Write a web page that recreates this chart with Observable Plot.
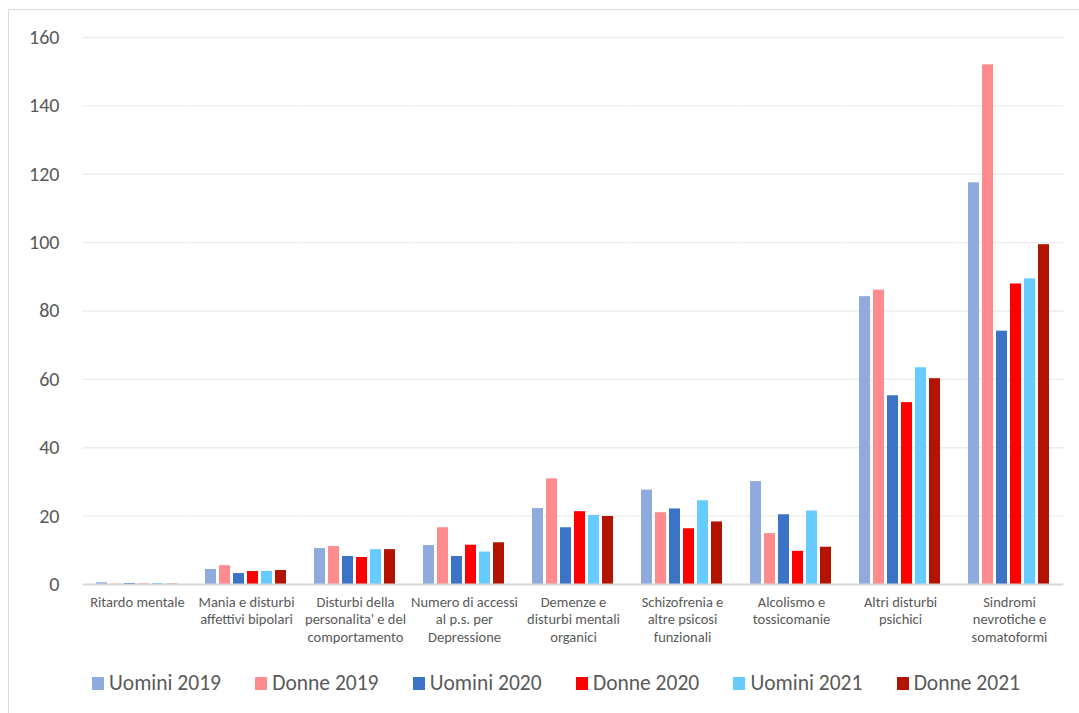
<!DOCTYPE html>
<html>
<head>
<meta charset="utf-8">
<script src="https://cdn.jsdelivr.net/npm/d3@7"></script>
<script src="https://cdn.jsdelivr.net/npm/@observablehq/plot@0.6"></script>
<style>
  html, body { margin: 0; padding: 0; background: #fff; }
  body { width: 1079px; height: 713px; overflow: hidden; position: relative; font-family: Carlito, Lato, "Liberation Sans", sans-serif; }
  #frame { position: absolute; left: 8px; top: 9px; width: 1200px; height: 800px; border: 1.5px solid #d9d9d9; box-sizing: border-box; }
  #chart { position: absolute; left: 0; top: 0; }
  #legend { position: absolute; left: 92px; top: 670px; width: 928px; display: flex; justify-content: space-between; align-items: center; }
  .item { display: flex; align-items: center; font-size: 21.5px; color: #595959; }
  .sw { width: 12px; height: 13px; margin-right: 5px; }
</style>
</head>
<body>
<div id="frame"></div>
<div id="chart"></div>
<div id="legend"></div>
<script>
const categories = [
  "Ritardo mentale",
  "Mania e disturbi affettivi bipolari",
  "Disturbi della personalita' e del comportamento",
  "Numero di accessi al p.s. per Depressione",
  "Demenze e disturbi mentali organici",
  "Schizofrenia e altre psicosi funzionali",
  "Alcolismo e tossicomanie",
  "Altri disturbi psichici",
  "Sindromi nevrotiche e somatoformi"
];
const categoryLabels = [
  "Ritardo mentale",
  "Mania e disturbi\naffettivi bipolari",
  "Disturbi della\npersonalita' e del\ncomportamento",
  "Numero di accessi\nal p.s. per\nDepressione",
  "Demenze e\ndisturbi mentali\norganici",
  "Schizofrenia e\naltre psicosi\nfunzionali",
  "Alcolismo e\ntossicomanie",
  "Altri disturbi\npsichici",
  "Sindromi\nnevrotiche e\nsomatoformi"
];
const series = ["Uomini 2019", "Donne 2019", "Uomini 2020", "Donne 2020", "Uomini 2021", "Donne 2021"];
const seriesColors = ["#8faadc", "#ff8b8f", "#3b73c6", "#ff0000", "#66ccff", "#b31402"];

const uomini2019 = [0.5, 4.4, 10.5, 11.4, 22.2, 27.6, 30.1, 84.2, 117.5];
const donne2019  = [0.1, 5.5, 11.1, 16.6, 30.9, 21.0, 14.9, 86.1, 152.0];
const uomini2020 = [0.3, 3.2, 8.2, 8.2, 16.6, 22.1, 20.4, 55.2, 74.1];
const donne2020  = [0.1, 3.8, 7.9, 11.5, 21.3, 16.3, 9.7, 53.2, 87.9];
const uomini2021 = [0.3, 3.8, 10.2, 9.5, 20.2, 24.5, 21.5, 63.4, 89.4];
const donne2021  = [0.1, 4.1, 10.2, 12.2, 19.9, 18.3, 10.9, 60.2, 99.4];

const yTicks = [0, 20, 40, 60, 80, 100, 120, 140, 160];

const valuesBySeries = [uomini2019, donne2019, uomini2020, donne2020, uomini2021, donne2021];
const data = [];
categories.forEach((c, i) => {
  series.forEach((s, j) => {
    data.push({category: c, series: s, value: valuesBySeries[j][i]});
  });
});
const labelOf = new Map(categories.map((c, i) => [c, categoryLabels[i]]));

const plotLeft = 80, plotRight = 1067, W = 1079;
const pInner = 0.244, pOuter = 0.122;
const step = (plotRight - plotLeft) / (categories.length - pInner + 2 * pOuter);
const halfGap = pInner * step / 2;

const chart = Plot.plot({
  width: W,
  height: 655,
  marginLeft: plotLeft,
  marginRight: W - plotRight,
  marginTop: 37,
  marginBottom: 71,
  style: {fontFamily: "Carlito, Lato, 'Liberation Sans', sans-serif", color: "#595959", background: "transparent"},
  fx: {domain: categories, paddingInner: pInner, paddingOuter: pOuter, label: null},
  x: {domain: series, paddingInner: 0.2, paddingOuter: 0, axis: null},
  y: {domain: [0, 160], label: null},
  color: {domain: series, range: seriesColors},
  marks: [
    Plot.ruleY(yTicks.filter(d => d > 0), {stroke: "#ececec", strokeWidth: 1.3, insetLeft: -halfGap, insetRight: -halfGap}),
    Plot.axisY(yTicks, {tickSize: 0, tickPadding: 37, fontSize: 20, fill: "#595959", label: null}),
    Plot.axisFx({anchor: "bottom", tickSize: 0, tickPadding: 10, fontSize: 14.5, fill: "#595959", lineHeight: 1.2, lineAnchor: "top",
      tickFormat: d => labelOf.get(d), label: null}),
    Plot.barY(data, {fx: "category", x: "series", y: "value", fill: "series"}),
    Plot.ruleY([0], {stroke: "#d6d6d6", strokeWidth: 2, insetLeft: -halfGap, insetRight: -halfGap})
  ]
});
document.getElementById("chart").appendChild(chart);

const legend = document.getElementById("legend");
series.forEach((s, i) => {
  const item = document.createElement("div");
  item.className = "item";
  const sw = document.createElement("span");
  sw.className = "sw";
  sw.style.background = seriesColors[i];
  const t = document.createElement("span");
  t.textContent = s;
  item.appendChild(sw);
  item.appendChild(t);
  legend.appendChild(item);
});
</script>
</body>
</html>
